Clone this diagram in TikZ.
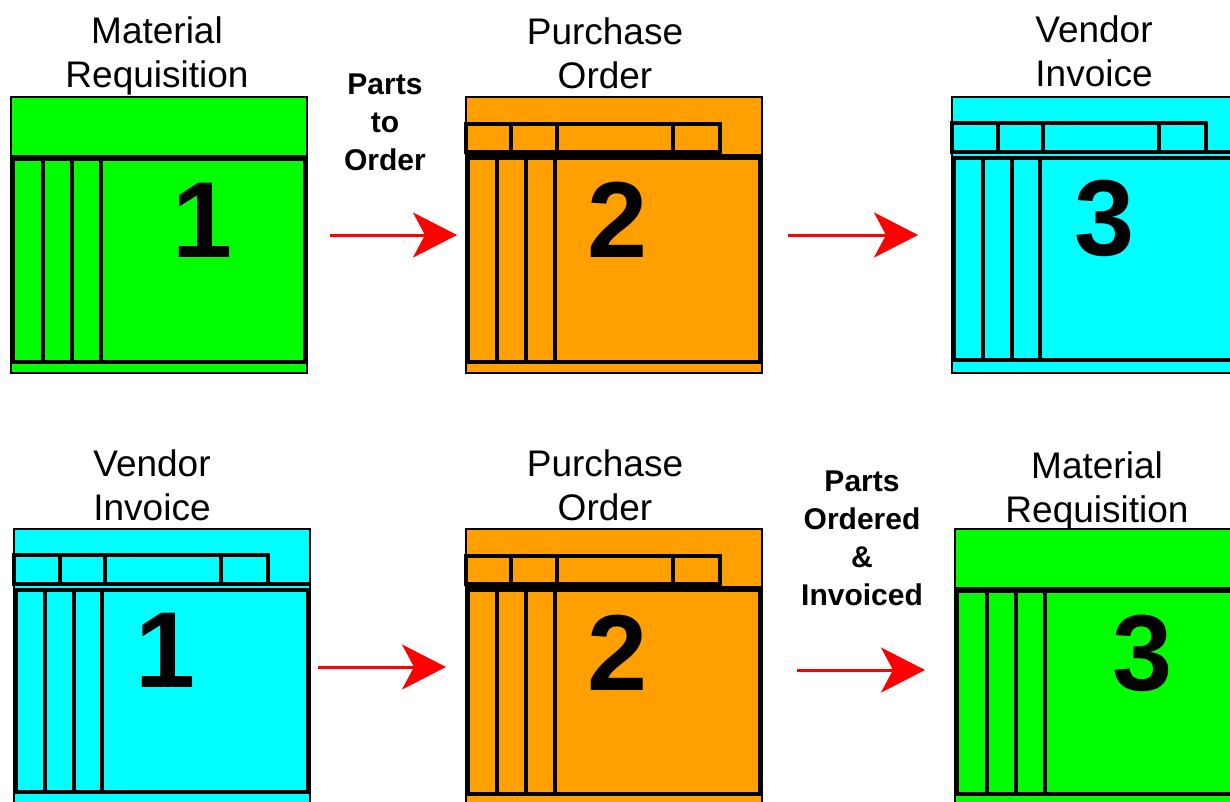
\documentclass[tikz,border=0pt]{standalone}
\usepackage{fontspec}
\setmainfont{Liberation Sans}
\usetikzlibrary{arrows.meta}

\definecolor{reqgreen}{RGB}{0,255,0}
\definecolor{poorange}{RGB}{255,160,0}
\definecolor{invcyan}{RGB}{0,255,255}
\definecolor{flowred}{RGB}{255,0,0}

\tikzset{
  formbox/.style={draw=black, line width=2.6pt, minimum width=296pt,
    minimum height=276pt, inner sep=0pt, outer sep=0pt},
  formrule/.style={draw=black, line width=3.2pt},
  formheavy/.style={draw=black, line width=5.5pt},
  doctitle/.style={font=\fontsize{37}{44}\selectfont, align=center, anchor=base},
  flowlabel/.style={font=\bfseries\fontsize{30}{38}\selectfont, align=center, anchor=base},
  formdigit/.style={font=\bfseries\fontsize{108}{108}\selectfont, inner sep=0pt},
  flowarrow/.style={draw=flowred, line width=3pt,
    -{Stealth[length=44pt, width=45pt, inset=12pt]}},
}

% requisition form: plain header band, ruled body
\newcommand\reqdetail[1]{%
  \begin{scope}[shift={(#1.north west)}]
    \draw[formrule] (2.5,61) rectangle (293.5,265);
    \draw[formheavy] (0,61) -- (296,61);
    \foreach \c in {32,61,90} \draw[formrule] (\c,61) -- (\c,265);
  \end{scope}}

% purchase order form: row of header cells over a heavy rule
\newcommand\podetail[1]{%
  \begin{scope}[shift={(#1.north west)}]
    \draw[formrule] (0,27) rectangle (254,55);
    \foreach \c in {45,91,207} \draw[formrule] (\c,27) -- (\c,55);
    \draw[formrule] (2.5,61) rectangle (293.5,265);
    \draw[formheavy] (0,59.5) -- (296,59.5);
    \foreach \c in {31,60,89} \draw[formrule] (\c,61) -- (\c,265);
  \end{scope}}

% invoice form: row of header cells, double rule
\newcommand\invdetail[1]{%
  \begin{scope}[shift={(#1.north west)}]
    \draw[formrule] (0,26) rectangle (254,55);
    \foreach \c in {46,91,207} \draw[formrule] (\c,26) -- (\c,55);
    \draw[formrule] (0,55) -- (296,55);
    \draw[formrule] (2.5,61) rectangle (293.5,263);
    \foreach \c in {31,60,88} \draw[formrule] (\c,61) -- (\c,263);
  \end{scope}}

\begin{document}
\begin{tikzpicture}[x=1pt, y=-1pt]
\useasboundingbox (0,0) rectangle (1230,801);
\fill[white] (0,0) rectangle (1230,801);
\clip (0,0) rectangle (1230,801);

% upper flow
\node[formbox, fill=reqgreen] (mr1) at (159,235) {};
\node[formbox, fill=poorange] (po1) at (614,235) {};
\node[formbox, fill=invcyan]  (vi1) at (1100,235) {};
\reqdetail{mr1}
\podetail{po1}
\invdetail{vi1}

% lower flow
\node[formbox, fill=invcyan]  (vi2) at (162,667) {};
\node[formbox, fill=poorange] (po2) at (614,667) {};
\node[formbox, fill=reqgreen] (mr2) at (1103,667) {};
\invdetail{vi2}
\podetail{po2}
\reqdetail{mr2}

% step numbers
\node[formdigit] (n1) at (203,220) {1};
\node[formdigit] (n2) at (618,220) {2};
\node[formdigit] (n3) at (1105,218) {3};
\node[formdigit] (n4) at (166,650) {1};
\node[formdigit] (n5) at (618,653) {2};
\node[formdigit] (n6) at (1143,653) {3};

% form titles
\node[doctitle] (t1) at (157,87) {Material\\Requisition};
\node[doctitle] (t2) at (605,88) {Purchase\\Order};
\node[doctitle] (t3) at (1094,86) {Vendor\\Invoice};
\node[doctitle] (t4) at (152,520) {Vendor\\Invoice};
\node[doctitle] (t5) at (605,520) {Purchase\\Order};
\node[doctitle] (t6) at (1097,522) {Material\\Requisition};

% flow labels
\node[flowlabel] (l1) at (385,170) {Parts\\to\\Order};
\node[flowlabel] (l2) at (862,605) {Parts\\Ordered\\\&\\Invoiced};

% flow arrows
\draw[flowarrow, shorten <=23pt, shorten >=9pt] (mr1.east) -- (po1.west);
\draw[flowarrow, shorten <=26pt, shorten >=34pt] (po1.east) -- (vi1.west);
\draw[flowarrow, shorten <=8pt, shorten >=20pt] (vi2.east) -- (po2.west);
\draw[flowarrow, shorten <=35pt, shorten >=30pt] ([yshift=-3pt]po2.east) -- ([yshift=-3pt]mr2.west);
\end{tikzpicture}
\end{document}
